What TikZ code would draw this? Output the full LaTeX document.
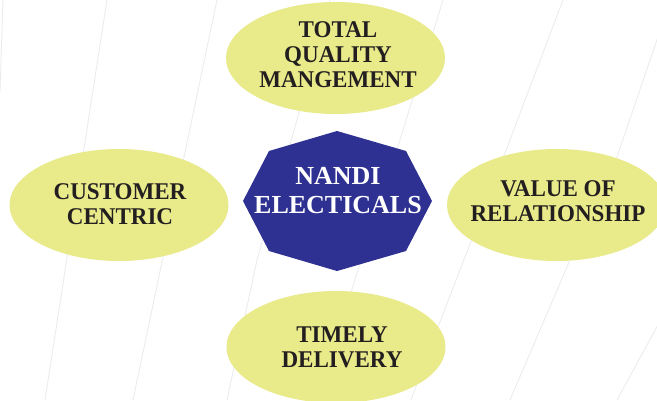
\documentclass[tikz,border=0pt]{standalone}
\usepackage{fontspec}
\setmainfont{Liberation Serif}
\newfontfamily\ellfont[FakeStretch=0.96]{Liberation Serif}
\definecolor{ellcol}{HTML}{E9EA8A}
\definecolor{octcol}{HTML}{2E3192}
\definecolor{txtcol}{HTML}{231F20}
\definecolor{bgline}{HTML}{EBEBEE}
\tikzset{
  bgstroke/.style={draw=bgline, line width=0.8pt},
  ellfill/.style={fill=ellcol},
  elltext/.style={inner sep=0pt, align=center, text=txtcol,
    font=\ellfont\fontsize{24}{25}\selectfont\bfseries},
  octtext/.style={inner sep=0pt, align=center, text=white,
    font=\fontsize{26}{29}\selectfont\bfseries}
}
\begin{document}
\begin{tikzpicture}[x=1pt,y=-1pt]
\useasboundingbox[fill=white] (0,0) rectangle (657,400);
% faint background lines
\draw[bgstroke] (107,0) -- (45,400);
\draw[bgstroke] (217,0) -- (133,400);
\draw[bgstroke] (3,0) -- (0,92);
\draw[bgstroke] (330,0) -- (297,120) -- (257,260) -- (227,400);
\draw[bgstroke] (443,0) -- (400,140) -- (357,273) -- (318,400);
\draw[bgstroke] (563,0) -- (505,153) -- (438,327) -- (411,400);
\draw[bgstroke] (662,25) -- (617,157) -- (570,260) -- (510,400);
\draw[bgstroke] (665,312) -- (617,400);
% ellipses
\fill[ellfill] (335.5,58) ellipse [x radius=109.5, y radius=56];
\fill[ellfill] (119,205) ellipse [x radius=109.5, y radius=56];
\fill[ellfill] (556.5,205) ellipse [x radius=109.5, y radius=56];
\fill[ellfill] (336,347) ellipse [x radius=109.5, y radius=56];
% octagon
\fill[octcol] (337,131) -- (406,151) -- (432,201) -- (406,251) -- (337,271)
  -- (269,251) -- (243,201) -- (269,151) -- cycle;
% texts
\node[octtext] (center) at (338,191) {NANDI\\ELECTICALS};
\node[elltext] (tqm) at (338,54.5) {TOTAL\\QUALITY\\MANGEMENT};
\node[elltext] (cc) at (120,204) {CUSTOMER\\CENTRIC};
\node[elltext] (vr) at (558,201.5) {VALUE OF\\RELATIONSHIP};
\node[elltext] (td) at (342,347) {TIMELY\\DELIVERY};
\end{tikzpicture}
\end{document}
